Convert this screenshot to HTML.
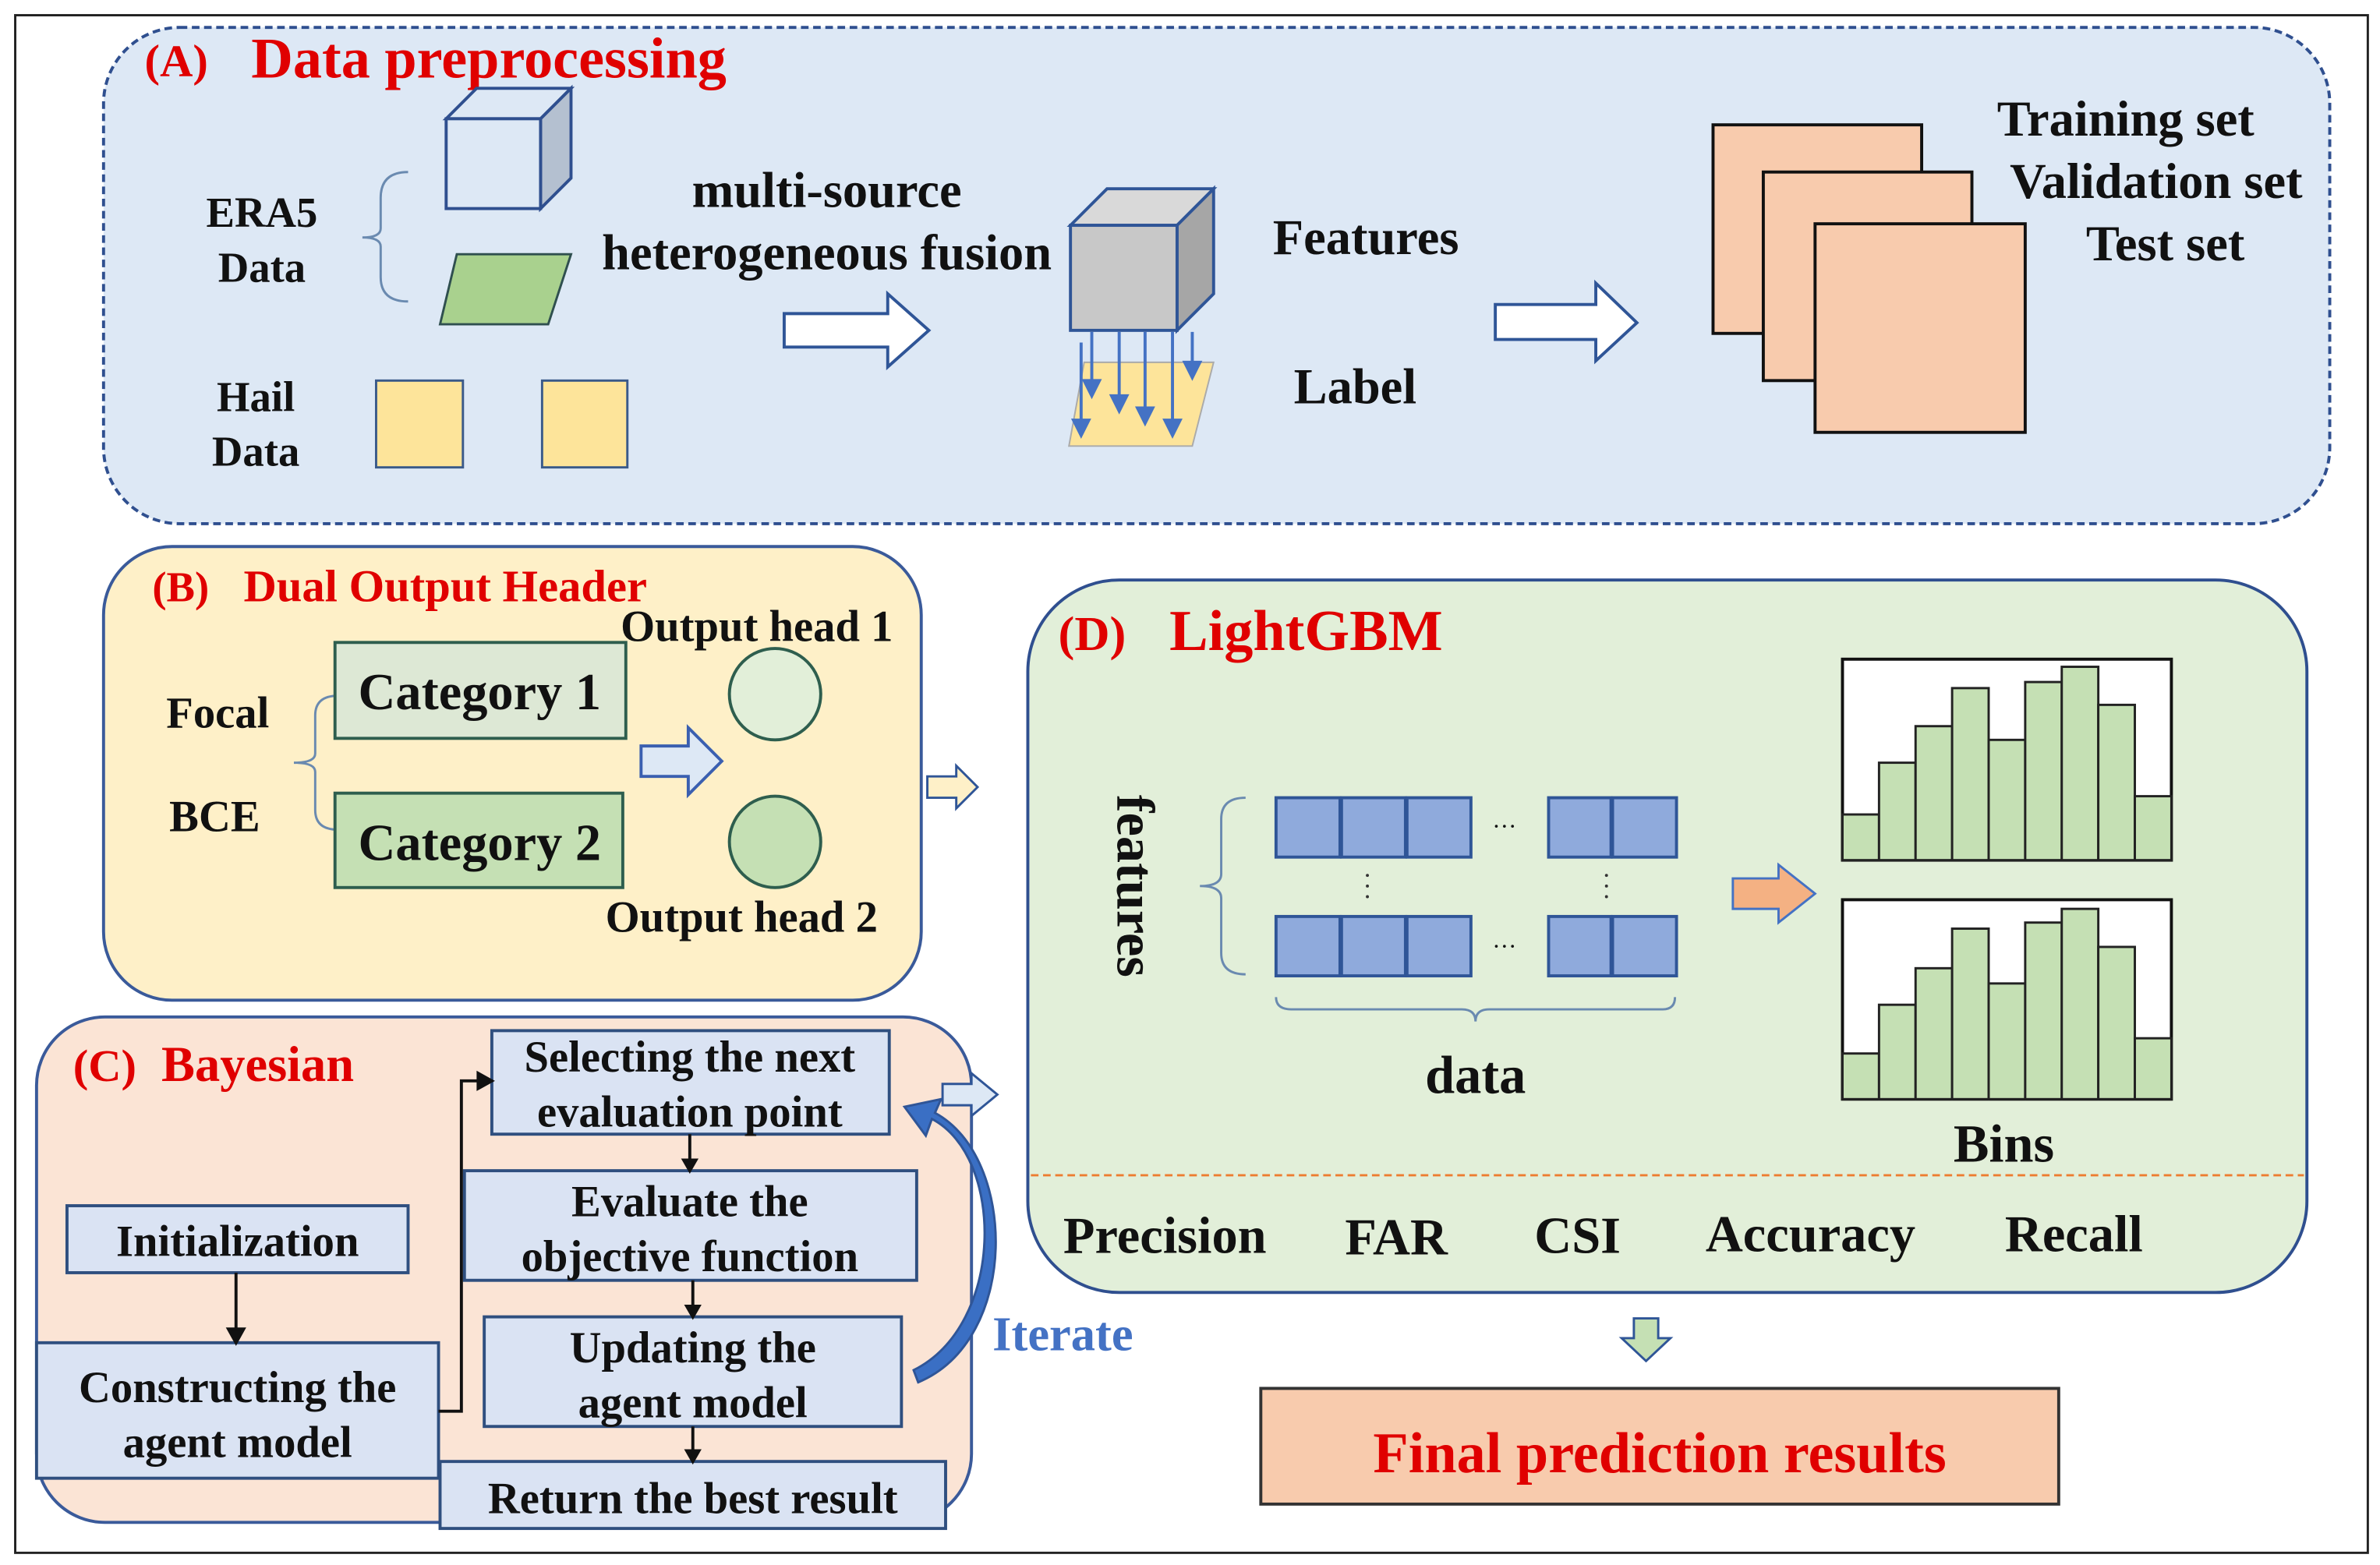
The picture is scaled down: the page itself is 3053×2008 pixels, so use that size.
<!DOCTYPE html>
<html><head><meta charset="utf-8"><style>
html,body{margin:0;padding:0;background:#fff;}
svg{display:block;}
text{font-family:"Liberation Serif",serif;font-weight:bold;fill:#111;}
.r{fill:#e00000;}
</style></head><body>
<svg width="3053" height="2008" viewBox="0 0 1563 1028" preserveAspectRatio="none" xmlns="http://www.w3.org/2000/svg">
<rect x="0" y="0" width="1563" height="1028" fill="#fff"/>
<rect x="10" y="10" width="1545" height="1010" fill="none" stroke="#222" stroke-width="1.5"/>

<!-- A -->
<rect x="68" y="18" width="1462" height="326" rx="50" fill="#dde8f5" stroke="#2f4f8f" stroke-width="2" stroke-dasharray="5,3"/>
<text x="95" y="50" class="r" font-size="30">(A)</text>
<text x="165" y="51" class="r" font-size="38">Data preprocessing</text>
<polygon points="293,78 313,58 375,58 355,78" fill="#dde8f5" stroke="#2f4f8f" stroke-width="2"/>
<polygon points="355,78 375,58 375,117 355,137" fill="#b4c0d0" stroke="#2f4f8f" stroke-width="2"/>
<rect x="293" y="78" width="62" height="59" fill="#dde8f5" stroke="#2f4f8f" stroke-width="2"/>
<polygon points="300,167 375,167 360,213 289,213" fill="#a9d18e" stroke="#2f4f4f" stroke-width="1.5"/>
<path d="M268,113 Q250,113 250,130 L250,150 Q250,156 238,156 Q250,156 250,162 L250,182 Q250,198 268,198" fill="none" stroke="#6a8ab0" stroke-width="1.5"/>
<text x="172" y="149" font-size="28" text-anchor="middle">ERA5</text>
<text x="172" y="185" font-size="28" text-anchor="middle">Data</text>
<text x="168" y="270" font-size="28" text-anchor="middle">Hail</text>
<text x="168" y="306" font-size="28" text-anchor="middle">Data</text>
<rect x="247" y="250" width="57" height="57" fill="#fde49a" stroke="#3a5a8a" stroke-width="1.5"/>
<rect x="356" y="250" width="56" height="57" fill="#fde49a" stroke="#3a5a8a" stroke-width="1.5"/>
<text x="543" y="136" font-size="33" text-anchor="middle">multi-source</text>
<text x="543" y="177" font-size="33" text-anchor="middle">heterogeneous fusion</text>
<polygon points="515,206 583,206 583,193 610,217 583,241 583,228 515,228" fill="#fff" stroke="#2f5597" stroke-width="2"/>
<polygon points="703,148 727,124 797,124 773,148" fill="#d9d9d9" stroke="#2f5597" stroke-width="2"/>
<polygon points="773,148 797,124 797,193 773,217" fill="#a6a6a6" stroke="#2f5597" stroke-width="2"/>
<rect x="703" y="148" width="70" height="69" fill="#c8c8c8" stroke="#2f5597" stroke-width="2"/>
<polygon points="712,238 797,238 783,293 702,293" fill="#fde49a" stroke="#aaa" stroke-width="1"/>
<g stroke="#4472c4" stroke-width="2" fill="#4472c4">
<line x1="717" y1="218" x2="717" y2="252"/><polygon points="712,250 722,250 717,260"/>
<line x1="735" y1="218" x2="735" y2="262"/><polygon points="730,260 740,260 735,270"/>
<line x1="752" y1="218" x2="752" y2="270"/><polygon points="747,268 757,268 752,278"/>
<line x1="770" y1="218" x2="770" y2="278"/><polygon points="765,276 775,276 770,286"/>
<line x1="710" y1="225" x2="710" y2="278"/><polygon points="705,276 715,276 710,286"/>
<line x1="783" y1="218" x2="783" y2="240"/><polygon points="778,238 788,238 783,248"/>
</g>
<text x="897" y="167" font-size="33" text-anchor="middle">Features</text>
<text x="890" y="265" font-size="33" text-anchor="middle">Label</text>
<polygon points="982,200 1048,200 1048,186 1075,212 1048,237 1048,223 982,223" fill="#fff" stroke="#2f5597" stroke-width="2"/>
<rect x="1125" y="82" width="137" height="137" fill="#f8cbad" stroke="#111" stroke-width="2"/>
<rect x="1158" y="113" width="137" height="137" fill="#f8cbad" stroke="#111" stroke-width="2"/>
<rect x="1192" y="147" width="138" height="137" fill="#f8cbad" stroke="#111" stroke-width="2"/>
<text x="1396" y="89" font-size="33" text-anchor="middle">Training set</text>
<text x="1416" y="130" font-size="33" text-anchor="middle">Validation set</text>
<text x="1422" y="171" font-size="33" text-anchor="middle">Test set</text>

<!-- B -->
<rect x="68" y="359" width="537" height="298" rx="45" fill="#fef0c8" stroke="#3a5a9a" stroke-width="2"/>
<text x="100" y="395" class="r" font-size="28">(B)</text>
<text x="160" y="395" class="r" font-size="30">Dual Output Header</text>
<text x="143" y="478" font-size="29" text-anchor="middle">Focal</text>
<text x="141" y="546" font-size="29" text-anchor="middle">BCE</text>
<path d="M222,457 Q207,457 207,470 L207,495 Q207,501 193,501 Q207,501 207,507 L207,532 Q207,545 222,545" fill="none" stroke="#6a8ab0" stroke-width="1.5"/>
<rect x="220" y="422" width="191" height="63" fill="#dde8d5" stroke="#2e5e4e" stroke-width="2"/>
<rect x="220" y="521" width="189" height="62" fill="#c5e0b4" stroke="#2e5e4e" stroke-width="2"/>
<text x="315" y="466" font-size="34" text-anchor="middle">Category 1</text>
<text x="315" y="565" font-size="34" text-anchor="middle">Category 2</text>
<text x="497" y="421" font-size="29" text-anchor="middle">Output head 1</text>
<text x="487" y="612" font-size="29" text-anchor="middle">Output head 2</text>
<circle cx="509" cy="456" r="30" fill="#e2efd9" stroke="#2e5e4e" stroke-width="2"/>
<circle cx="509" cy="553" r="30" fill="#c5e0b4" stroke="#2e5e4e" stroke-width="2"/>
<polygon points="421,490 452,490 452,478 474,500 452,522 452,510 421,510" fill="#dde8f5" stroke="#3a5fb0" stroke-width="2"/>
<polygon points="609,510 628,510 628,503 642,517 628,531 628,524 609,524" fill="#fef0c8" stroke="#2f5597" stroke-width="1.5"/>

<!-- C -->
<rect x="24" y="668" width="614" height="332" rx="45" fill="#fbe4d5" stroke="#3a5a9a" stroke-width="2"/>
<text x="48" y="710" class="r" font-size="30">(C)</text>
<text x="106" y="710" class="r" font-size="33">Bayesian</text>
<g fill="#dae3f3" stroke="#2f4f7f" stroke-width="2">
<rect x="44" y="792" width="224" height="44"/>
<rect x="24" y="882" width="264" height="89"/>
<rect x="323" y="677" width="261" height="68"/>
<rect x="305" y="769" width="297" height="72"/>
<rect x="318" y="865" width="274" height="72"/>
<rect x="289" y="960" width="332" height="44"/>
</g>
<text x="156" y="825" font-size="29" text-anchor="middle">Initialization</text>
<text x="156" y="921" font-size="29" text-anchor="middle">Constructing the</text>
<text x="156" y="957" font-size="29" text-anchor="middle">agent model</text>
<text x="453" y="704" font-size="29" text-anchor="middle">Selecting the next</text>
<text x="453" y="740" font-size="29" text-anchor="middle">evaluation point</text>
<text x="453" y="799" font-size="29" text-anchor="middle">Evaluate the</text>
<text x="453" y="835" font-size="29" text-anchor="middle">objective function</text>
<text x="455" y="895" font-size="29" text-anchor="middle">Updating the</text>
<text x="455" y="931" font-size="29" text-anchor="middle">agent model</text>
<text x="455" y="994" font-size="29" text-anchor="middle">Return the best result</text>
<g stroke="#111" stroke-width="2" fill="#111">
<line x1="155" y1="836" x2="155" y2="875"/><polygon points="150,873 160,873 155,882"/>
<polyline points="288,927 303,927 303,710 315,710" fill="none"/><polygon points="314,705 323,710 314,715"/>
<line x1="453" y1="745" x2="453" y2="763"/><polygon points="449,762 457,762 453,769"/>
<line x1="455" y1="841" x2="455" y2="859"/><polygon points="451,858 459,858 455,865"/>
<line x1="455" y1="937" x2="455" y2="954"/><polygon points="451,953 459,953 455,960"/>
</g>
<path d="M600,900 C660,870 660,760 612,735 L608,746 L594,727 L618,722 L614,731 C668,760 670,880 603,908 Z" fill="#3a6fc4" stroke="#2f5597" stroke-width="1.5"/>
<text x="698" y="887" font-size="32" text-anchor="middle" style="fill:#4472c4">Iterate</text>
<polygon points="619,712 638,712 638,705 655,719 638,733 638,726 619,726" fill="#dde8f5" stroke="#2f5597" stroke-width="1.5"/>

<!-- D -->
<rect x="675" y="381" width="840" height="468" rx="60" fill="#e2efd9" stroke="#2f4f8f" stroke-width="2"/>
<text x="695" y="427" class="r" font-size="32">(D)</text>
<text x="768" y="427" class="r" font-size="38">LightGBM</text>
<text transform="translate(734,582) rotate(90)" font-size="35" text-anchor="middle">features</text>
<path d="M818,524 Q802,524 802,538 L802,574 Q802,582 788,582 Q802,582 802,590 L802,626 Q802,640 818,640" fill="none" stroke="#6a8ab0" stroke-width="1.5"/>
<g fill="#8faadc" stroke="#2f5597" stroke-width="2">
<rect x="838" y="524" width="42" height="39"/><rect x="881" y="524" width="42" height="39"/><rect x="924" y="524" width="42" height="39"/><rect x="1017" y="524" width="41" height="39"/><rect x="1059" y="524" width="42" height="39"/>
<rect x="838" y="602" width="42" height="39"/><rect x="881" y="602" width="42" height="39"/><rect x="924" y="602" width="42" height="39"/><rect x="1017" y="602" width="41" height="39"/><rect x="1059" y="602" width="42" height="39"/>
</g>
<text x="988" y="548" font-size="16" text-anchor="middle" style="font-weight:normal">···</text>
<text x="988" y="627" font-size="16" text-anchor="middle" style="font-weight:normal">···</text>
<g fill="#333"><circle cx="898" cy="575" r="1"/><circle cx="898" cy="582" r="1"/><circle cx="898" cy="589" r="1"/><circle cx="1055" cy="575" r="1"/><circle cx="1055" cy="582" r="1"/><circle cx="1055" cy="589" r="1"/></g>
<path d="M838,655 Q838,663 848,663 L960,663 Q969,663 969,671 Q969,663 978,663 L1092,663 Q1100,663 1100,655" fill="none" stroke="#6a8ab0" stroke-width="1.5"/>
<text x="969" y="718" font-size="35" text-anchor="middle">data</text>
<polygon points="1138,577 1168,577 1168,568 1192,587 1168,606 1168,597 1138,597" fill="#f4b183" stroke="#4472c4" stroke-width="1.5"/>
<rect x="1210" y="433" width="216" height="132" fill="#fff" stroke="#111" stroke-width="2"/>
<g fill="#c5e0b4" stroke="#222" stroke-width="1.5">
<rect x="1210" y="535" width="24" height="30"/><rect x="1234" y="501" width="24" height="64"/><rect x="1258" y="477" width="24" height="88"/><rect x="1282" y="452" width="24" height="113"/><rect x="1306" y="486" width="24" height="79"/><rect x="1330" y="448" width="24" height="117"/><rect x="1354" y="438" width="24" height="127"/><rect x="1378" y="463" width="24" height="102"/><rect x="1402" y="523" width="24" height="42"/>
</g>
<rect x="1210" y="591" width="216" height="131" fill="#fff" stroke="#111" stroke-width="2"/>
<g fill="#c5e0b4" stroke="#222" stroke-width="1.5">
<rect x="1210" y="692" width="24" height="30"/><rect x="1234" y="660" width="24" height="62"/><rect x="1258" y="636" width="24" height="86"/><rect x="1282" y="610" width="24" height="112"/><rect x="1306" y="646" width="24" height="76"/><rect x="1330" y="606" width="24" height="116"/><rect x="1354" y="597" width="24" height="125"/><rect x="1378" y="622" width="24" height="100"/><rect x="1402" y="682" width="24" height="40"/>
</g>
<text x="1316" y="763" font-size="35" text-anchor="middle">Bins</text>
<line x1="677" y1="772" x2="1513" y2="772" stroke="#ed7d31" stroke-width="1.5" stroke-dasharray="5,3"/>
<text x="765" y="823" font-size="34" text-anchor="middle">Precision</text>
<text x="917" y="824" font-size="34" text-anchor="middle">FAR</text>
<text x="1036" y="823" font-size="34" text-anchor="middle">CSI</text>
<text x="1189" y="822" font-size="34" text-anchor="middle">Accuracy</text>
<text x="1362" y="822" font-size="34" text-anchor="middle">Recall</text>
<polygon points="1073,866 1089,866 1089,879 1097,879 1081,894 1065,879 1073,879" fill="#c5e0b4" stroke="#2f5597" stroke-width="1.5"/>
<rect x="828" y="912" width="524" height="76" fill="#f8cbad" stroke="#333" stroke-width="2"/>
<text x="1090" y="967" class="r" font-size="38" text-anchor="middle">Final prediction results</text>
</svg>
</body></html>
